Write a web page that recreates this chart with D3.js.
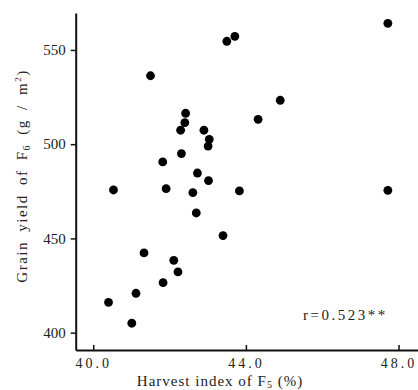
<!DOCTYPE html>
<html>
<head>
<meta charset="utf-8">
<script src="https://cdn.jsdelivr.net/npm/d3@7"></script>
<style>
  body { margin: 0; background: #fff; }
  text { font-family: "Liberation Serif", "Times New Roman", serif; fill: #222; }
</style>
</head>
<body>
<div id="chart"></div>
<script>
// Harvest index of F5 (%) for each line
const harvestIndex = [47.72, 43.50, 43.71, 41.50, 44.90, 44.32, 42.42, 42.40, 42.29, 42.90,
    43.04, 43.01, 42.31, 41.82, 42.73, 43.02, 40.53, 41.91, 42.61, 43.83,
    47.72, 42.70, 43.40, 41.33, 42.11, 42.22, 41.83, 41.12, 40.40, 41.01];

// Grain yield of F6 (g/m2) for each line
const grainYield = [564.1, 554.6, 557.2, 536.3, 523.3, 513.2, 516.4, 511.4, 507.4, 507.4,
    502.6, 499.0, 495.0, 490.6, 484.7, 480.7, 475.7, 476.4, 474.3, 475.2,
    475.5, 463.5, 451.5, 442.3, 438.4, 432.2, 426.5, 420.9, 416.1, 405.0];

const xTicks = [40, 44, 48];
const yTicks = [400, 450, 500, 550];
const corrLabel = "r=0.523**";

const width = 418;
const height = 390;

const svg = d3.select("#chart")
    .append("svg")
    .attr("width", width)
    .attr("height", height);

const x = d3.scaleLinear()
    .domain([39.54, 48.51])
    .range([75.7, 418]);

const y = d3.scaleLinear()
    .domain([390.8, 569.6])
    .range([350, 13]);

// y axis, ticks pointing out
const yAxis = svg.append("g")
    .attr("transform", "translate(75.7,0)")
    .call(d3.axisLeft(y).tickValues(yTicks).tickSize(5).tickSizeOuter(0).tickPadding(5));

// x axis, ticks pointing in
const xAxis = svg.append("g")
    .attr("transform", "translate(0,350)")
    .call(d3.axisBottom(x).tickValues(xTicks).tickFormat(d3.format(".1f"))
        .tickSize(-5).tickSizeOuter(0).tickPadding(8));

[xAxis, yAxis].forEach(function(g) {
    g.select(".domain").attr("stroke", "#111").attr("stroke-width", 2);
    g.selectAll(".tick line").attr("stroke", "#111").attr("stroke-width", 1.5);
    g.selectAll(".tick text")
        .attr("font-family", "Liberation Serif")
        .attr("font-size", 15)
        .attr("fill", "#222");
});
xAxis.selectAll(".tick text").attr("font-size", 14).attr("letter-spacing", 3);

// points
const data = harvestIndex.map((h, i) => ({ h: h, g: grainYield[i] }));

svg.selectAll("circle")
    .data(data)
    .join("circle")
    .attr("cx", d => x(d.h))
    .attr("cy", d => y(d.g))
    .attr("r", 4.4)
    .attr("fill", "#000");

// correlation label
svg.append("text")
    .attr("x", 303)
    .attr("y", 320)
    .attr("font-size", 15)
    .attr("letter-spacing", 2.5)
    .text(corrLabel);

// x title
const xTitle = svg.append("text")
    .attr("x", 220)
    .attr("y", 386)
    .attr("text-anchor", "middle")
    .attr("font-size", 15)
    .attr("letter-spacing", 1);
xTitle.append("tspan").text("Harvest index of F");
xTitle.append("tspan").attr("font-size", 10).attr("dy", 1.5).text("5");
xTitle.append("tspan").attr("dy", -1.5).text(" (%)");

// y title
const yTitle = svg.append("text")
    .attr("transform", "translate(27,176) rotate(-90)")
    .attr("text-anchor", "middle")
    .attr("font-size", 15)
    .attr("letter-spacing", 1.5)
    .attr("word-spacing", 4);
yTitle.append("tspan").text("Grain yield of F");
yTitle.append("tspan").attr("font-size", 10).attr("dy", 3).text("6");
yTitle.append("tspan").attr("dy", -3).text(" (g / m");
yTitle.append("tspan").attr("font-size", 9).attr("dy", -6).text("2");
yTitle.append("tspan").attr("dy", 6).text(")");
</script>
</body>
</html>
